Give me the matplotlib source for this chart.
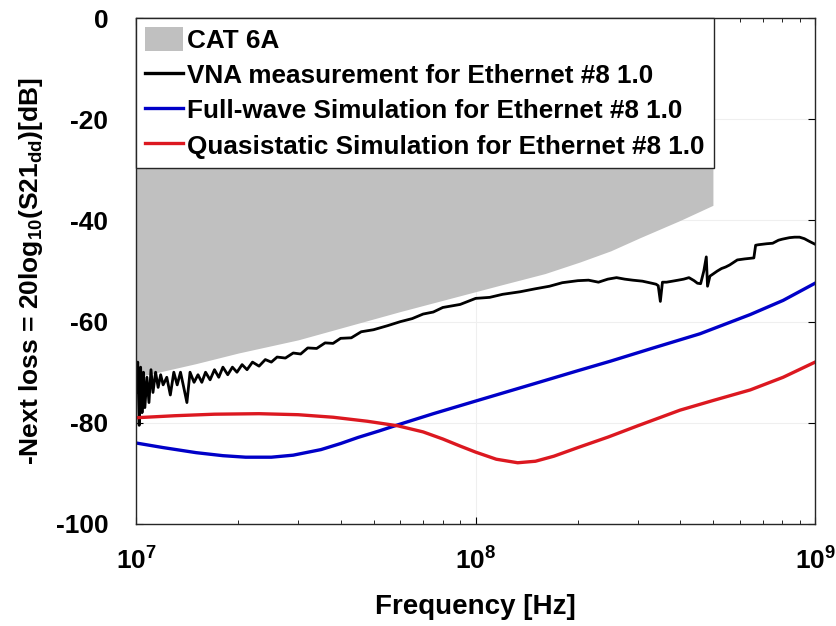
import numpy as np
import matplotlib.pyplot as plt
from matplotlib.patches import Patch
from matplotlib.lines import Line2D

plt.rcParams['font.family'] = ['Liberation Sans', 'DejaVu Sans']
plt.rcParams['font.weight'] = 'bold'
plt.rcParams['mathtext.fontset'] = 'custom'
plt.rcParams['mathtext.rm'] = 'Liberation Sans:bold'
plt.rcParams['mathtext.bf'] = 'Liberation Sans:bold'
plt.rcParams['mathtext.default'] = 'rm'
plt.rcParams['axes.unicode_minus'] = False

# CAT 6A limit (lower edge of the grey area), MHz / dB
cat_f = [10, 15, 20, 30, 60, 118, 160, 203, 250, 305, 400, 500]
cat_db = [-71, -68.3, -66.2, -63.6, -58, -52.8, -50.5, -48.2, -46, -43.4, -40, -37]

# VNA measurement, MHz / dB
vna_f = [10.0, 10.1, 10.2, 10.3, 10.4, 10.5, 10.6, 10.75, 10.9, 11.05, 11.2, 11.4,
         11.6, 11.8, 12.0, 12.3, 12.6, 12.9, 13.2, 13.5, 13.8, 14.1, 14.4, 14.8,
         15.2, 15.6, 16.0, 16.5, 17.0, 17.5, 18.0, 18.6, 19.2, 19.8, 20.5, 21.2,
         22.0, 23.0, 24.0, 25.0, 26.0, 27.5, 29.0, 30.5, 32.0, 34.0, 36.0, 38.0,
         40.0, 43.0, 46.0, 50.0, 55.0, 60.0, 65.0, 70.0, 75.0, 80.0, 90.0, 100.0,
         110.0, 120.0, 135.0, 150.0, 165.0, 180.0, 200.0, 215.0, 230.0, 245.0, 260.0,
         275.0, 290.0, 310.0, 330.0, 340.0, 345.0, 350.0, 355.0, 365.0, 380.0,
         395.0, 410.0, 425.0, 440.0, 450.0, 460.0, 470.0, 478.0, 482.0, 490.0,
         500.0, 515.0, 530.0, 545.0, 560.0, 590.0, 620.0, 640.0, 660.0, 668.0,
         680.0, 720.0, 750.0, 780.0, 800.0, 840.0, 870.0, 900.0, 930.0, 960.0, 1000.0]
vna_db = [-74, -68, -80.5, -69, -78, -70, -77, -71, -76, -69.5, -74, -70, -73, -70.5,
          -72.5, -71, -74.5, -70, -72.5, -70, -73, -76, -70, -72, -70.5, -72, -70,
          -71.5, -69.5, -71, -69, -70.5, -69, -70, -68.5, -69.5, -68, -68.8, -67.5,
          -68, -67, -67.2, -66.2, -66.4, -65.2, -65.3, -64.2, -64.3, -63.3, -63.2,
          -62.0, -61.6, -60.8, -60.0, -59.4, -58.5, -58.1, -57.2, -56.6, -55.4,
          -55.2, -54.6, -54.1, -53.5, -53.0, -52.3, -51.9, -51.8, -52.2, -51.6,
          -51.3, -51.6, -51.8, -52.0, -52.4, -52.6, -52.9, -56.0, -52.2, -52.2,
          -52.0, -51.8, -51.6, -51.3, -51.9, -52.4, -52.5, -50.0, -47.2, -53.0,
          -51.0, -50.6, -50.0, -49.5, -49.2, -48.8, -47.8, -47.6, -47.5, -47.4,
          -44.9, -44.8, -44.6, -44.5, -43.9, -43.7, -43.4, -43.3, -43.3, -43.6,
          -44.1, -44.7]

# full-wave simulation, MHz / dB
fw_f = [10, 12, 15, 18, 21, 25, 29, 35, 40, 45, 52, 59, 75, 100, 150, 200, 250,
        330, 458, 644, 805, 1000]
fw_db = [-84, -84.9, -85.9, -86.5, -86.8, -86.8, -86.4, -85.3, -84.1, -82.9, -81.6,
         -80.4, -78.2, -75.7, -72.2, -69.7, -67.8, -65.3, -62.4, -58.6, -55.8, -52.4]

# quasistatic simulation, MHz / dB
qs_f = [10, 13, 17, 23, 30, 38, 48, 59, 70, 80, 90, 100, 115, 133, 150, 170, 200,
        246, 300, 400, 500, 644, 805, 1000]
qs_db = [-79, -78.6, -78.3, -78.2, -78.4, -78.9, -79.7, -80.6, -81.8, -83.2, -84.6,
         -85.8, -87.2, -87.9, -87.6, -86.6, -84.9, -82.8, -80.6, -77.5, -75.6, -73.5,
         -71, -68]

fig = plt.figure(figsize=(8.36, 6.26), dpi=100)
ax = fig.add_axes([0.163, 0.163, 0.812, 0.808])

cf = np.array(cat_f) * 1e6
ax.fill_between(cf, cat_db, 0, color='#c0c0c0', lw=0)
ax.plot(np.array(vna_f) * 1e6, vna_db, color='black', lw=2.0)
ax.plot(np.array(fw_f) * 1e6, fw_db, color='#0000c8', lw=2.4)
ax.plot(np.array(qs_f) * 1e6, qs_db, color='#dc1820', lw=2.4)

ax.set_xscale('log')
ax.set_xlim(1e7, 1e9)
ax.set_ylim(-100, 0)
ax.set_yticks([-100, -80, -60, -40, -20, 0])
ax.grid(True, which='major', color='#efefef', lw=0.8)
ax.set_axisbelow(True)
ax.tick_params(which='both', direction='in', top=True, right=True, labelsize=19)
ax.tick_params(axis='y', pad=20)
ax.tick_params(axis='x', pad=17)
ax.tick_params(which='major', length=5)
ax.tick_params(which='minor', length=3)
for s in ax.spines.values():
    s.set_color('#262626')
    s.set_linewidth(1.0)

ax.set_xlabel('Frequency [Hz]', fontsize=20, fontweight='bold', labelpad=14)
ax.set_ylabel('-Next loss = 20log$_{10}$(S21$_{dd}$)[dB]', fontsize=19,
              fontweight='bold', labelpad=8)

handles = [Patch(facecolor='#c0c0c0', edgecolor='none'),
           Line2D([], [], color='black', lw=2.4),
           Line2D([], [], color='#0000c8', lw=2.4),
           Line2D([], [], color='#dc1820', lw=2.4)]
labels = ['CAT 6A', 'VNA measurement for Ethernet #8 1.0',
          'Full-wave Simulation for Ethernet #8 1.0',
          'Quasistatic Simulation for Ethernet #8 1.0']
leg = ax.legend(handles, labels, loc='upper left', fontsize=18.8, frameon=True,
                fancybox=False, framealpha=1, borderaxespad=0, handlelength=1.45,
                handleheight=1.0, handletextpad=0.15, labelspacing=0.37, borderpad=0.35)
leg.get_frame().set_edgecolor('#262626')
leg.get_frame().set_linewidth(1.0)
for t in leg.get_texts():
    t.set_fontweight('bold')

fig.savefig('out.png', dpi=100)
